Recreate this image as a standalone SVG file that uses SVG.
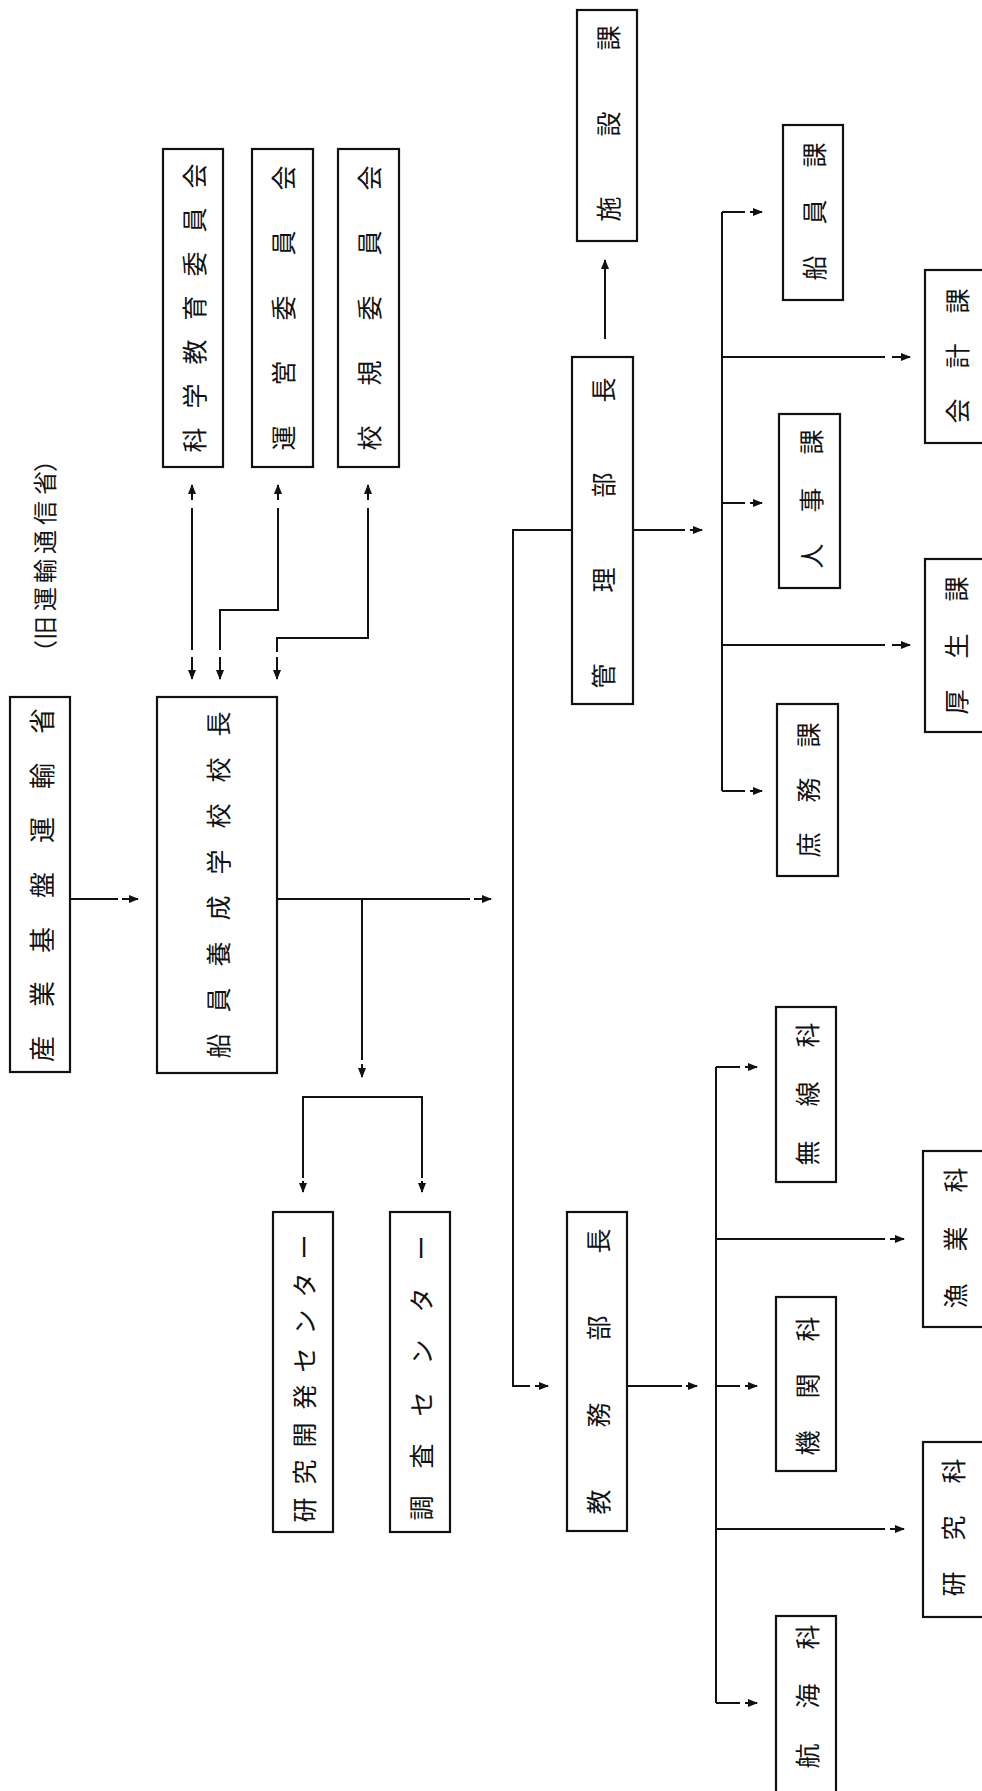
<svg xmlns="http://www.w3.org/2000/svg" width="982" height="1791" viewBox="0 0 982 1791">
<style>
.b{fill:#fff;stroke:#111;stroke-width:2.2}
.t{font-family:"Noto Sans CJK JP","Noto Sans CJK SC",sans-serif;font-size:25px;fill:#111;text-anchor:middle;dominant-baseline:central}
.c{fill:none;stroke:#111;stroke-width:2}
.a{fill:none;stroke:#111;stroke-width:2;marker-end:url(#ah)}
</style>
<defs>
<marker id="ah" markerUnits="userSpaceOnUse" markerWidth="10" markerHeight="8" refX="9" refY="4" orient="auto">
<path d="M0,0 L10,4 L0,8 Z" fill="#111"/>
</marker>
</defs>
<rect x="0" y="0" width="982" height="1791" fill="#fff"/>

<g id="connectors">
<!-- 産業 -> 船員 -->
<path class="c" d="M70,899 H118"/>
<path class="a" d="M122,899 H138"/>
<!-- committee 1 -->
<path class="a" d="M192,500 V485"/>
<path class="c" d="M192,508 V650"/>
<path class="a" d="M192,657 V679"/>
<!-- committee 2 -->
<path class="a" d="M278,500 V485"/>
<path class="c" d="M278,508 V610 H220 V650"/>
<path class="a" d="M220,657 V679"/>
<!-- committee 3 -->
<path class="a" d="M368,500 V485"/>
<path class="c" d="M368,508 V638 H277 V652"/>
<path class="a" d="M277,657 V679"/>
<!-- 船員 -> right -->
<path class="c" d="M277,899 H470"/>
<path class="a" d="M474,899 H491"/>
<path class="c" d="M362,899 V1060"/>
<path class="a" d="M362,1064 V1077"/>
<!-- centers bracket -->
<path class="c" d="M303,1178 V1097 H422 V1178"/>
<path class="a" d="M303,1181 V1192"/>
<path class="a" d="M422,1181 V1192"/>
<!-- main vertical -->
<path class="c" d="M572,530 H513 V1386 H530"/>
<path class="a" d="M535,1386 H548"/>
<!-- 管理 -> 施設 -->
<path class="a" d="M605,339 V260"/>
<!-- 管理 right -->
<path class="c" d="M633,530 H685"/>
<path class="a" d="M690,530 H702"/>
<!-- 課 bracket -->
<path class="c" d="M722,212 V791"/>
<path class="c" d="M722,212 H745"/><path class="a" d="M750,212 H762"/>
<path class="c" d="M722,357 H885"/><path class="a" d="M892,357 H910"/>
<path class="c" d="M722,503 H745"/><path class="a" d="M750,503 H762"/>
<path class="c" d="M722,645 H885"/><path class="a" d="M892,645 H910"/>
<path class="c" d="M722,791 H745"/><path class="a" d="M750,791 H762"/>
<!-- 教務 right -->
<path class="c" d="M627,1386 H682"/>
<path class="a" d="M686,1386 H697"/>
<!-- 科 bracket -->
<path class="c" d="M716,1067 V1703"/>
<path class="c" d="M716,1067 H740"/><path class="a" d="M745,1067 H757"/>
<path class="c" d="M716,1239 H885"/><path class="a" d="M890,1239 H904"/>
<path class="c" d="M716,1386 H740"/><path class="a" d="M745,1386 H757"/>
<path class="c" d="M716,1529 H885"/><path class="a" d="M890,1529 H904"/>
<path class="c" d="M716,1703 H740"/><path class="a" d="M745,1703 H757"/>
</g>

<g id="note">
<text class="t" style="font-size:24px" transform="rotate(-90)" x="-652 -628 -599 -571 -542 -513 -483 -460" y="43">（旧運輸通信省）</text>
</g>

<g id="sangyo">
<rect class="b" x="10" y="697" width="60" height="375"/>
<text class="t" style="font-size:26px" transform="rotate(-90)" x="-1049 -994 -940 -885 -830 -776 -721" y="40">産業基盤運輸省</text>
</g>

<g id="kocho">
<rect class="b" x="157" y="697" width="120" height="376"/>
<text class="t" transform="rotate(-90)" x="-1046 -1000 -954 -908 -862 -816 -770 -724" y="217">船員養成学校校長</text>
</g>

<g id="iinkai-kagaku">
<rect class="b" x="163" y="149" width="60" height="318"/>
<text class="t" transform="rotate(-90)" x="-440 -396 -352 -308 -264 -220 -176" y="193">科学教育委員会</text>
</g>
<g id="iinkai-unei">
<rect class="b" x="252" y="149" width="61" height="318"/>
<text class="t" transform="rotate(-90)" x="-438 -373 -308 -243 -178" y="282">運営委員会</text>
</g>
<g id="iinkai-koki">
<rect class="b" x="338" y="149" width="61" height="318"/>
<text class="t" transform="rotate(-90)" x="-438 -373 -308 -243 -178" y="368">校規委員会</text>
</g>

<g id="kenkyu-center">
<rect class="b" x="273" y="1212" width="60" height="320"/>
<text class="t" transform="rotate(-90)" x="-1510 -1472 -1435 -1397 -1360 -1322 -1285 -1247" y="303">研究開発センター</text>
</g>
<g id="chosa-center">
<rect class="b" x="390" y="1212" width="60" height="320"/>
<text class="t" transform="rotate(-90)" x="-1508 -1456 -1404 -1352 -1300 -1248" y="420">調査センター</text>
</g>

<g id="kanri">
<rect class="b" x="572" y="357" width="61" height="347"/>
<text class="t" transform="rotate(-90)" x="-676 -580 -485 -390" y="602">管理部長</text>
</g>
<g id="kyomu">
<rect class="b" x="567" y="1212" width="60" height="319"/>
<text class="t" transform="rotate(-90)" x="-1502 -1415 -1328 -1241" y="597">教務部長</text>
</g>

<g id="shisetsu">
<rect class="b" x="577" y="10" width="60" height="231"/>
<text class="t" transform="rotate(-90)" x="-209 -124 -38" y="607">施設課</text>
</g>
<g id="senin-ka">
<rect class="b" x="783" y="125" width="60" height="175"/>
<text class="t" transform="rotate(-90)" x="-268 -212 -155" y="813">船員課</text>
</g>
<g id="jinji">
<rect class="b" x="779" y="414" width="61" height="174"/>
<text class="t" transform="rotate(-90)" x="-556 -500 -442" y="810">人事課</text>
</g>
<g id="shomu">
<rect class="b" x="777" y="704" width="61" height="172"/>
<text class="t" transform="rotate(-90)" x="-845 -790 -735" y="807">庶務課</text>
</g>
<g id="kaikei">
<rect class="b" x="925" y="270" width="70" height="173"/>
<text class="t" transform="rotate(-90)" x="-411 -356 -301" y="956">会計課</text>
</g>
<g id="kosei">
<rect class="b" x="925" y="559" width="70" height="173"/>
<text class="t" transform="rotate(-90)" x="-702 -646 -589" y="955">厚生課</text>
</g>

<g id="musen">
<rect class="b" x="776" y="1007" width="60" height="175"/>
<text class="t" transform="rotate(-90)" x="-1153 -1094 -1035" y="806">無線科</text>
</g>
<g id="gyogyo">
<rect class="b" x="923" y="1151" width="70" height="176"/>
<text class="t" transform="rotate(-90)" x="-1296 -1239 -1180" y="954">漁業科</text>
</g>
<g id="kikan">
<rect class="b" x="776" y="1297" width="60" height="174"/>
<text class="t" transform="rotate(-90)" x="-1443 -1386 -1329" y="806">機関科</text>
</g>
<g id="kenkyu-ka">
<rect class="b" x="923" y="1442" width="70" height="175"/>
<text class="t" transform="rotate(-90)" x="-1584 -1528 -1471" y="952">研究科</text>
</g>
<g id="kokai">
<rect class="b" x="776" y="1616" width="60" height="190"/>
<text class="t" transform="rotate(-90)" x="-1756 -1696 -1637" y="806">航海科</text>
</g>
</svg>
